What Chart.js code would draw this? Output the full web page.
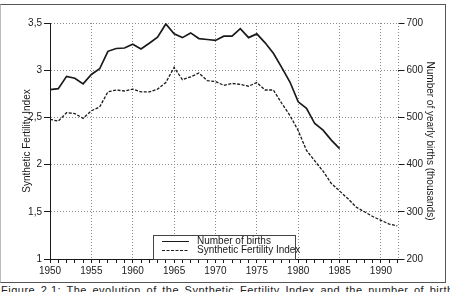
<!DOCTYPE html>
<html>
<head>
<meta charset="utf-8">
<script src="https://cdn.jsdelivr.net/npm/chart.js@4/dist/chart.umd.min.js"></script>
<style>
  html, body { margin: 0; padding: 0; background: #fff; overflow: hidden; }
  #wrap { position: relative; width: 450px; height: 292px; }
  #frame { position: absolute; left: 0px; top: 4px; width: 444px; height: 277px; border: 1px solid #555; border-left-color: #bbb; }
  #c { position: absolute; left: 0; top: 0; }
  #caption { position: absolute; left: 1px; top: 284px; font: 11px "Liberation Sans", Arial, sans-serif; color: #222; white-space: nowrap; letter-spacing: 0.5px; word-spacing: 2px; }
</style>
</head>
<body>
<div id="wrap">
  <div id="frame"></div>
  <canvas id="c" width="450" height="282"></canvas>
  <div id="caption">Figure 2.1: The evolution of the Synthetic Fertility Index and the number of births</div>
</div>
<script>
const years = [1950,1951,1952,1953,1954,1955,1956,1957,1958,1959,
               1960,1961,1962,1963,1964,1965,1966,1967,1968,1969,
               1970,1971,1972,1973,1974,1975,1976,1977,1978,1979,
               1980,1981,1982,1983,1984,1985,1986,1987,1988,1989,
               1990,1991,1992];
// Number of births (thousands), 1950-1985, right axis
const births = [559,561,587,583,571,591,603,640,646,647,
                655,645,657,670,698,677,669,679,667,665,
                663,672,672,688,669,677,658,636,606,575,
                533,519,487,473,452,434];
// Synthetic Fertility Index, 1950-1992, left axis
const tfi = [2.48,2.46,2.55,2.54,2.49,2.57,2.61,2.77,2.79,2.78,
             2.80,2.77,2.77,2.80,2.87,3.03,2.90,2.93,2.97,2.89,
             2.88,2.84,2.86,2.85,2.83,2.87,2.79,2.79,2.65,2.52,
             2.36,2.15,2.04,1.93,1.80,1.72,1.64,1.55,1.50,1.45,
             1.41,1.37,1.35];
const seriesLabels = ["Number of births", "Synthetic Fertility Index"];
const leftTitle = "Synthetic Fertility Index";
const rightTitle = "Number of yearly births (thousands)";

const FONT = '"Liberation Sans", Arial, sans-serif';
const INK = '#1a1a1a';
const GRID = '#8a8a8a';

const birthPts = births.map((v, i) => ({x: years[i], y: v}));
const tfiPts = tfi.map((v, i) => ({x: years[i], y: v}));

const extras = {
  id: 'extras',
  afterDraw(chart) {
    const ctx = chart.ctx;
    const a = chart.chartArea;
    ctx.save();
    ctx.strokeStyle = GRID;
    ctx.lineWidth = 1;
    ctx.setLineDash([1, 2]);
    ctx.beginPath();
    ctx.moveTo(Math.round(a.right) + 0.5, a.top);
    ctx.lineTo(Math.round(a.right) + 0.5, a.bottom);
    ctx.stroke();
    ctx.setLineDash([]);
    const L = 153, T = 235, R = 295, B = 259;
    ctx.fillStyle = '#fff';
    ctx.fillRect(L, T, R - L, B - T);
    ctx.strokeStyle = '#444';
    ctx.lineWidth = 1;
    ctx.strokeRect(L + 0.5, T + 0.5, R - L, B - T);
    const ds = chart.data.datasets;
    const rows = [241, 250];
    ctx.font = '10px ' + FONT;
    ctx.textBaseline = 'middle';
    ctx.textAlign = 'left';
    ds.forEach((d, i) => {
      const y = rows[i] + 0.5;
      ctx.strokeStyle = INK;
      ctx.lineWidth = 1;
      ctx.setLineDash(d.borderDash || []);
      ctx.beginPath();
      ctx.moveTo(162, y);
      ctx.lineTo(189, y);
      ctx.stroke();
      ctx.setLineDash([]);
      ctx.fillStyle = INK;
      ctx.fillText(d.label, 197, rows[i]);
    });
    ctx.restore();
  }
};

new Chart(document.getElementById('c'), {
  type: 'line',
  data: {
    datasets: [
      { label: seriesLabels[0], data: birthPts, yAxisID: 'y2',
        borderColor: INK, borderWidth: 1.7, pointRadius: 0, tension: 0, fill: false },
      { label: seriesLabels[1], data: tfiPts, yAxisID: 'y',
        borderColor: INK, borderWidth: 1.3, borderDash: [3, 1.5], pointRadius: 0, tension: 0, fill: false }
    ]
  },
  options: {
    responsive: false,
    animation: false,
    layout: { padding: { top: 23, left: 0, right: 0, bottom: 0 } },
    plugins: { legend: { display: false }, tooltip: { enabled: false } },
    scales: {
      x: {
        type: 'linear', min: 1950, max: 1992,
        afterFit(s) { s.height = 23; },
        ticks: {
          stepSize: 1, autoSkip: false, maxTicksLimit: 100, maxRotation: 0,
          padding: 2, color: INK, font: { family: FONT, size: 10 },
          callback: v => (v % 5 === 0 ? String(v) : '')
        },
        grid: {
          color: c => (c.tick && c.tick.value % 5 === 0 && c.tick.value !== 1950) ? GRID : 'rgba(0,0,0,0)',
          tickColor: INK, tickLength: 4, lineWidth: 1
        },
        border: { display: true, color: INK, width: 1, dash: [1, 2] }
      },
      y: {
        position: 'left', min: 1, max: 3.5,
        afterFit(s) { s.width = 50; },
        ticks: {
          stepSize: 0.5, padding: 2, color: INK, font: { family: FONT, size: 10 },
          callback: v => String(v).replace('.', ',')
        },
        grid: {
          color: c => (c.tick && c.tick.value !== 1) ? GRID : 'rgba(0,0,0,0)',
          tickColor: INK, tickLength: 6, lineWidth: 1
        },
        border: { display: true, color: INK, width: 1, dash: [1, 2] },
        title: { display: true, text: leftTitle, color: INK, font: { family: FONT, size: 10 }, padding: { top: 21, bottom: 0 } }
      },
      y2: {
        position: 'right', min: 200, max: 700,
        afterFit(s) { s.width = 52.5; },
        ticks: {
          stepSize: 100, padding: 2, color: INK, font: { family: FONT, size: 10 }
        },
        grid: { drawOnChartArea: false, tickColor: INK, tickLength: 7, lineWidth: 1 },
        border: { display: false },
        title: { display: true, text: rightTitle, color: INK, font: { family: FONT, size: 10 }, padding: { top: 14, bottom: 0 } }
      }
    }
  },
  plugins: [extras]
});
</script>
</body>
</html>
